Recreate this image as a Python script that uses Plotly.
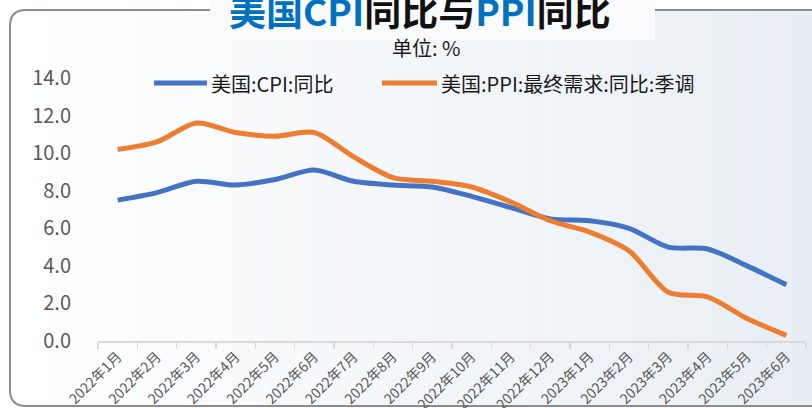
import plotly.graph_objects as go

months = ["2022年1月", "2022年2月", "2022年3月", "2022年4月", "2022年5月", "2022年6月",
          "2022年7月", "2022年8月", "2022年9月", "2022年10月", "2022年11月", "2022年12月",
          "2023年1月", "2023年2月", "2023年3月", "2023年4月", "2023年5月", "2023年6月"]
series_names = ["美国:CPI:同比", "美国:PPI:最终需求:同比:季调"]
cpi = [7.5, 7.9, 8.5, 8.3, 8.6, 9.1, 8.5, 8.3, 8.2, 7.7, 7.1, 6.5, 6.4, 6.0, 5.0, 4.9, 4.0, 3.0]
ppi = [10.2, 10.6, 11.6, 11.1, 10.9, 11.1, 9.8, 8.7, 8.5, 8.2, 7.4, 6.4, 5.8, 4.8, 2.6, 2.35, 1.2, 0.3]
y_ticks = [0, 2, 4, 6, 8, 10, 12, 14]
y_tick_text = ["0.0", "2.0", "4.0", "6.0", "8.0", "10.0", "12.0", "14.0"]
colors = ["#4472C4", "#ED7D31"]

W, H = 812, 408
L, R, T, B = 98, 6, 78, 67
PW, PH = W - L - R, H - T - B

def px(x):
    return (x - L) / PW

def py(y):
    return (H - B - y) / PH

FONT = "Noto Sans CJK SC"

fig = go.Figure()
for name, vals, col in zip(series_names, [cpi, ppi], colors):
    fig.add_trace(go.Scatter(x=months, y=vals, mode="lines", name=name, showlegend=False,
                             line=dict(color=col, width=5, shape="spline", smoothing=0.8)))

shapes = []
# background gradient strips
n = 40
x0p, x1p = 10, 812
c0 = (255, 255, 255)
c1 = (232, 239, 244)
for i in range(n):
    a = x0p + (x1p - x0p) * i / n
    b = x0p + (x1p - x0p) * (i + 1) / n + 0.5
    t = i / (n - 1)
    col = tuple(round(c0[k] + (c1[k] - c0[k]) * t) for k in range(3))
    shapes.append(dict(type="rect", xref="paper", yref="paper", layer="below",
                       x0=px(a), x1=px(b), y0=py(406), y1=py(10),
                       fillcolor="rgb(%d,%d,%d)" % col, line=dict(width=0)))
# rounded frame
r = 16
path = ("M %f %f L %f %f Q %f %f %f %f L %f %f Q %f %f %f %f L %f %f" % (
    px(830), py(10), px(10 + r), py(10), px(10), py(10), px(10), py(10 + r),
    px(10), py(406 - r), px(10), py(406), px(10 + r), py(406), px(830), py(406)))
shapes.append(dict(type="path", xref="paper", yref="paper", path=path, layer="below",
                   line=dict(color="#8c8c8c", width=2)))
# title box
shapes.append(dict(type="rect", xref="paper", yref="paper", layer="below",
                   x0=px(210), x1=px(655), y0=py(40), y1=py(-5),
                   fillcolor="#fafbfd", line=dict(width=0)))

annotations = [
    dict(xref="paper", yref="paper", x=px(420), y=py(10), xanchor="center", yanchor="middle",
         text='<b><span style="color:#0070C0">美国CPI</span>同比与<span style="color:#0070C0">PPI</span>同比</b>',
         showarrow=False, font=dict(family=FONT, size=37, color="#111111")),
    dict(xref="paper", yref="paper", x=px(426), y=py(48), xanchor="center", yanchor="middle",
         text="单位: %", showarrow=False,
         font=dict(family=FONT, size=20, color="#1a1a1a")),
]

# legend (drawn manually to match long sample lines)
leg_y = 83
leg_items = [(154, 207, 209), (382, 437, 439)]
for (la, lb, tx), name, col in zip(leg_items, series_names, colors):
    shapes.append(dict(type="line", xref="paper", yref="paper", x0=px(la), x1=px(lb),
                       y0=py(leg_y), y1=py(leg_y), line=dict(color=col, width=5)))
    annotations.append(dict(xref="paper", yref="paper", x=px(tx), y=py(leg_y),
                            xanchor="left", yanchor="middle", text=name, showarrow=False,
                            font=dict(family=FONT, size=20, color="#1a1a1a")))

fig.update_layout(
    width=W, height=H,
    margin=dict(l=L, r=R, t=T, b=B, autoexpand=False),
    paper_bgcolor="white",
    plot_bgcolor="rgba(0,0,0,0)",
    shapes=shapes,
    annotations=annotations,
    font=dict(family=FONT),
)
fig.update_xaxes(type="category", range=[-0.5, 17.5], showgrid=False, showline=True,
                 linecolor="#d9d9d9", linewidth=2, ticks="outside", tickcolor="#d9d9d9",
                 ticklen=6, tickwidth=1.5, tickson="boundaries", tickangle=-45,
                 tickfont=dict(family=FONT, size=14, color="#595959"),
                 zeroline=False, fixedrange=True, automargin=False)
fig.update_yaxes(range=[0, 14], tickvals=y_ticks, ticktext=y_tick_text, showgrid=False,
                 showline=False, zeroline=False, ticklabelstandoff=26, automargin=False,
                 fixedrange=True,
                 tickfont=dict(family=FONT, size=20, color="#595959"))

fig.write_html("out.html", config={"displayModeBar": False, "staticPlot": True},
               post_script="document.body.style.margin='0';document.body.style.overflow='hidden';")
